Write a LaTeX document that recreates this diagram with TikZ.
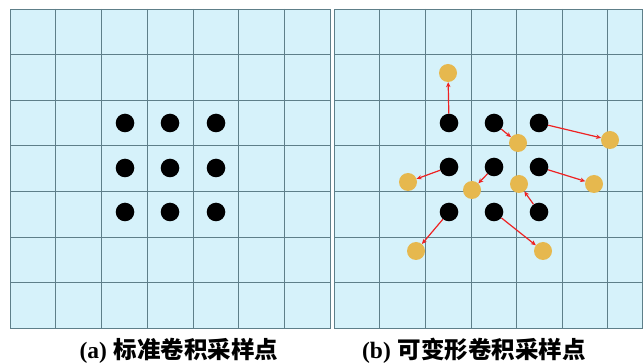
\documentclass[tikz,border=0pt]{standalone}
\usepackage{fontspec}
\setmainfont{Liberation Serif}
\newfontfamily\cjk{Noto Sans CJK SC}
\usetikzlibrary{arrows.meta}
\definecolor{panelfill}{HTML}{D6F2FA}
\definecolor{gridcol}{HTML}{5E7F89}
\definecolor{dotyellow}{HTML}{E6B84E}
\definecolor{arrred}{HTML}{EE2222}
\tikzset{
  panel/.style={fill=panelfill, draw=gridcol, line width=0.7pt},
  gridline/.style={draw=gridcol, line width=0.6pt},
  blackdot/.style={circle, fill=black, inner sep=0pt, minimum size=18.6pt},
  yellowdot/.style={circle, fill=dotyellow, inner sep=0pt, minimum size=18pt},
  redarrow/.style={draw=arrred, line width=1.2pt, -{Stealth[length=5pt,width=4.5pt]}},
  caption/.style={font=\fontsize{23.5pt}{26pt}\selectfont\bfseries, inner sep=0pt, anchor=base}
}
\begin{document}
\begin{tikzpicture}[x=1pt,y=-1pt]
\useasboundingbox (0,0) rectangle (643,363);
% left panel
\fill[panelfill] (10,9) rectangle (330,328);
\begin{scope}
\clip (10,9) rectangle (330,328);
\foreach \i in {1,...,6} {
  \draw[gridline] (10+45.7*\i,9) -- (10+45.7*\i,328);
  \draw[gridline] (10,9+45.57*\i) -- (330,9+45.57*\i);
}
\end{scope}
\draw[gridcol, line width=0.7pt] (10,9) rectangle (330,328);
% right panel
\fill[panelfill] (334,9) rectangle (642.5,328);
\begin{scope}
\clip (334,9) rectangle (642.5,328);
\foreach \i in {1,...,6} {
  \draw[gridline] (334+45.6*\i,9) -- (334+45.6*\i,328);
  \draw[gridline] (334,9+45.57*\i) -- (642.5,9+45.57*\i);
}
\end{scope}
\draw[gridcol, line width=0.7pt] (334,9) rectangle (642.5,328);
% left dots
\node[blackdot] (a11) at (125,123) {};
\node[blackdot] (a12) at (170,123) {};
\node[blackdot] (a13) at (216,123) {};
\node[blackdot] (a21) at (125,168) {};
\node[blackdot] (a22) at (170,168) {};
\node[blackdot] (a23) at (216,168) {};
\node[blackdot] (a31) at (125,212) {};
\node[blackdot] (a32) at (170,212) {};
\node[blackdot] (a33) at (216,212) {};
% right black dots
\node[blackdot] (b11) at (449,123) {};
\node[blackdot] (b12) at (494,123) {};
\node[blackdot] (b13) at (539,123) {};
\node[blackdot] (b21) at (449,167) {};
\node[blackdot] (b22) at (494,167) {};
\node[blackdot] (b23) at (539,167) {};
\node[blackdot] (b31) at (449,212) {};
\node[blackdot] (b32) at (494,212) {};
\node[blackdot] (b33) at (539,212) {};
% yellow dots
\node[yellowdot] (y11) at (448,73) {};
\node[yellowdot] (y12) at (518,143) {};
\node[yellowdot] (y13) at (610,140) {};
\node[yellowdot] (y21) at (408,182) {};
\node[yellowdot] (y22) at (472,190) {};
\node[yellowdot] (y23) at (594,184) {};
\node[yellowdot] (y31) at (416,251) {};
\node[yellowdot] (y32) at (543,251) {};
\node[yellowdot] (y33) at (519,184) {};
% arrows
\draw[redarrow] (b11) -- (y11);
\draw[redarrow] (b12) -- (y12);
\draw[redarrow] (b13) -- (y13);
\draw[redarrow] (b21) -- (y21);
\draw[redarrow] (b22) -- (y22);
\draw[redarrow] (b23) -- (y23);
\draw[redarrow] (b31) -- (y31);
\draw[redarrow] (b32) -- (y32);
\draw[redarrow] (b33) -- (y33);
% captions
\node[caption] (capa) at (179,358.5) {(a)\hspace{0.3em}{\cjk 标准卷积采样点}};
\node[caption] (capb) at (474,358.5) {(b)\hspace{0.3em}{\cjk 可变形卷积采样点}};
\end{tikzpicture}
\end{document}
